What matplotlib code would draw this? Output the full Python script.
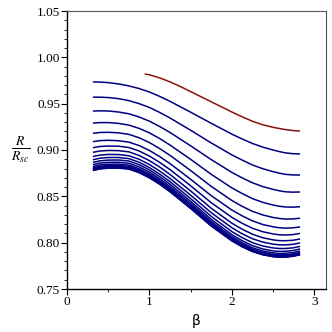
import matplotlib
matplotlib.use('Agg')
import matplotlib.pyplot as plt
from   matplotlib.ticker import MultipleLocator

import numpy as np

### beta samples shared by all blue curves
beta = [0.314, 0.4, 0.5, 0.625, 0.75, 0.875, 1.0, 1.125, 1.25, 1.5,
		1.75, 2.0, 2.125, 2.25, 2.375, 2.5, 2.575, 2.65, 2.74, 2.827]

### blue family, top to bottom
blue_curves = [
	[0.9735, 0.9733, 0.9727, 0.9713, 0.9692, 0.9663, 0.9626, 0.9578, 0.9525, 0.9408,
	 0.9288, 0.9171, 0.9119, 0.9070, 0.9031, 0.9000, 0.8983, 0.8969, 0.8960, 0.8957],
	[0.9570, 0.9570, 0.9566, 0.9554, 0.9533, 0.9500, 0.9459, 0.9405, 0.9345, 0.9213,
	 0.9076, 0.8947, 0.8891, 0.8838, 0.8798, 0.8766, 0.8750, 0.8737, 0.8731, 0.8730],
	[0.9420, 0.9423, 0.9421, 0.9410, 0.9391, 0.9356, 0.9311, 0.9253, 0.9189, 0.9045,
	 0.8896, 0.8758, 0.8699, 0.8646, 0.8605, 0.8575, 0.8560, 0.8549, 0.8545, 0.8547],
	[0.9290, 0.9296, 0.9296, 0.9287, 0.9269, 0.9233, 0.9185, 0.9123, 0.9053, 0.8899,
	 0.8737, 0.8591, 0.8530, 0.8475, 0.8435, 0.8406, 0.8393, 0.8385, 0.8383, 0.8388],
	[0.9180, 0.9189, 0.9191, 0.9185, 0.9169, 0.9132, 0.9080, 0.9015, 0.8942, 0.8778,
	 0.8607, 0.8455, 0.8392, 0.8338, 0.8299, 0.8272, 0.8261, 0.8255, 0.8256, 0.8264],
	[0.9090, 0.9101, 0.9105, 0.9100, 0.9085, 0.9048, 0.8995, 0.8928, 0.8853, 0.8684,
	 0.8507, 0.8352, 0.8289, 0.8235, 0.8196, 0.8171, 0.8161, 0.8157, 0.8160, 0.8170],
	[0.9025, 0.9038, 0.9043, 0.9041, 0.9027, 0.8989, 0.8934, 0.8866, 0.8788, 0.8614,
	 0.8431, 0.8273, 0.8209, 0.8155, 0.8118, 0.8094, 0.8085, 0.8083, 0.8087, 0.8100],
	[0.8975, 0.8989, 0.8995, 0.8993, 0.8980, 0.8941, 0.8885, 0.8816, 0.8736, 0.8558,
	 0.8371, 0.8210, 0.8145, 0.8091, 0.8053, 0.8030, 0.8022, 0.8021, 0.8026, 0.8040],
	[0.8930, 0.8945, 0.8952, 0.8951, 0.8938, 0.8900, 0.8843, 0.8773, 0.8692, 0.8512,
	 0.8323, 0.8161, 0.8096, 0.8042, 0.8006, 0.7984, 0.7977, 0.7976, 0.7982, 0.7997],
	[0.8895, 0.8911, 0.8919, 0.8919, 0.8907, 0.8868, 0.8810, 0.8739, 0.8658, 0.8475,
	 0.8283, 0.8119, 0.8054, 0.8000, 0.7964, 0.7943, 0.7937, 0.7937, 0.7944, 0.7960],
	[0.8866, 0.8883, 0.8891, 0.8892, 0.8881, 0.8842, 0.8784, 0.8712, 0.8630, 0.8445,
	 0.8251, 0.8086, 0.8021, 0.7968, 0.7932, 0.7911, 0.7906, 0.7907, 0.7915, 0.7932],
	[0.8842, 0.8859, 0.8867, 0.8868, 0.8857, 0.8818, 0.8760, 0.8688, 0.8606, 0.8422,
	 0.8228, 0.8064, 0.7999, 0.7945, 0.7910, 0.7890, 0.7884, 0.7885, 0.7893, 0.7910],
	[0.8822, 0.8839, 0.8847, 0.8848, 0.8837, 0.8798, 0.8740, 0.8669, 0.8588, 0.8404,
	 0.8211, 0.8048, 0.7983, 0.7930, 0.7895, 0.7875, 0.7869, 0.7870, 0.7878, 0.7895],
	[0.8808, 0.8825, 0.8833, 0.8834, 0.8823, 0.8784, 0.8727, 0.8656, 0.8575, 0.8392,
	 0.8200, 0.8037, 0.7973, 0.7920, 0.7885, 0.7865, 0.7859, 0.7860, 0.7868, 0.7885],
	[0.8797, 0.8814, 0.8822, 0.8823, 0.8812, 0.8773, 0.8716, 0.8646, 0.8565, 0.8383,
	 0.8192, 0.8031, 0.7966, 0.7914, 0.7879, 0.7859, 0.7853, 0.7854, 0.7863, 0.7879],
	[0.8789, 0.8805, 0.8814, 0.8815, 0.8804, 0.8765, 0.8709, 0.8638, 0.8558, 0.8376,
	 0.8186, 0.8025, 0.7961, 0.7909, 0.7874, 0.7854, 0.7848, 0.7849, 0.7858, 0.7874],
	[0.8783, 0.8799, 0.8808, 0.8809, 0.8798, 0.8759, 0.8703, 0.8633, 0.8552, 0.8372,
	 0.8182, 0.8022, 0.7958, 0.7906, 0.7871, 0.7851, 0.7846, 0.7846, 0.7855, 0.7871],
	[0.8779, 0.8795, 0.8804, 0.8804, 0.8794, 0.8755, 0.8699, 0.8629, 0.8549, 0.8369,
	 0.8179, 0.8019, 0.7955, 0.7904, 0.7869, 0.7849, 0.7844, 0.7844, 0.7853, 0.7869],
]

### the single red curve starts later
beta_red  = [0.942, 1.0, 1.125, 1.25, 1.375, 1.5, 1.75, 2.0, 2.125, 2.25,
			 2.375, 2.5, 2.575, 2.65, 2.74, 2.827]
red_curve = [0.9820, 0.9812, 0.9778, 0.9735, 0.9685, 0.9630, 0.9520, 0.9410, 0.9358, 0.9310,
			 0.9272, 0.9245, 0.9232, 0.9220, 0.9210, 0.9205]

x_ticks = [0, 1, 2, 3]
y_ticks = [0.75, 0.80, 0.85, 0.90, 0.95, 1.00, 1.05]

plt.rcParams['mathtext.fontset'] = 'stix'

fig = plt.figure(figsize=(3.32, 3.32), dpi=100)
ax  = fig.add_axes([67/332, 43/332, 259/332, 278/332])

for curve in blue_curves:
	ax.plot(beta, curve, color='#000080', lw=1.1, solid_capstyle='butt')

ax.plot(beta_red, red_curve, color='#8b1010', lw=1.1, solid_capstyle='butt')

ax.set_xlim(0, np.pi)
ax.set_ylim(0.75, 1.05)

ax.set_xticks(x_ticks)
ax.set_yticks(y_ticks)
ax.set_xticklabels([str(t) for t in x_ticks])
ax.set_yticklabels(['%.2f' % t for t in y_ticks])
ax.xaxis.set_minor_locator(MultipleLocator(0.5))
ax.yaxis.set_minor_locator(MultipleLocator(0.01))

ax.tick_params(which='major', length=4, width=0.8, direction='out',
			   labelsize=9.5, pad=1)
ax.tick_params(which='minor', length=2, width=0.6, direction='out')
for lab in ax.get_xticklabels() + ax.get_yticklabels():
	lab.set_fontfamily('Liberation Serif')

### Maple-style box: gray top/right, black left/bottom
for side in ['top', 'right']:
	ax.spines[side].set_color('#555555')
	ax.spines[side].set_linewidth(0.8)
for side in ['left', 'bottom']:
	ax.spines[side].set_color('black')
	ax.spines[side].set_linewidth(1.0)

ax.set_xlabel('β', fontsize=10, family='DejaVu Sans', labelpad=4)
ax.text(-0.18, 0.50, r'$\frac{R}{R_{sc}}$', transform=ax.transAxes,
		fontsize=14, ha='center', va='center')

plt.savefig('out.png', dpi=100)
